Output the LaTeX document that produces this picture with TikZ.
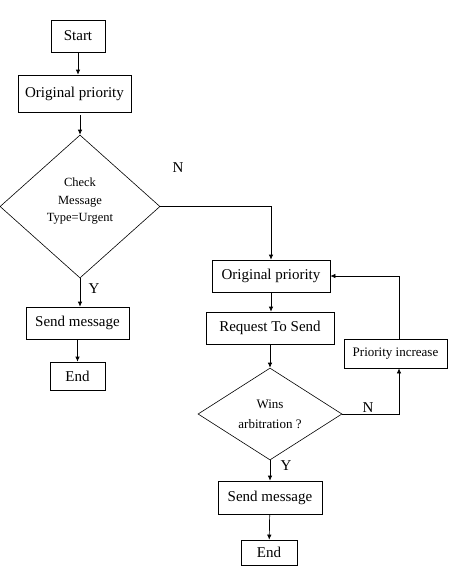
\documentclass[tikz,border=0pt]{standalone}
\usepackage{fontspec}
\setmainfont{Liberation Serif}
\usetikzlibrary{positioning, arrows.meta, shapes.geometric}

\begin{document}
\begin{tikzpicture}[
  x=1pt, y=-1pt,
  >={Latex[length=5pt, width=4.5pt]},
  box/.style={draw, line width=0.7pt, inner sep=0pt,
              font=\fontsize{15}{17}\selectfont},
  decision/.style={diamond, draw, line width=0.6pt, inner sep=0pt,
                   align=center},
  flow/.style={->, line width=0.7pt},
  tag/.style={font=\fontsize{15}{17}\selectfont},
]
\useasboundingbox (0,0) rectangle (452,574);

% ---- Left branch -------------------------------------------------------
\node[box, minimum width=54pt, minimum height=32pt] (start) at (78,36) {Start};
\node[box, minimum width=113pt, minimum height=37pt] (prioA) at (74.5,93.5)
  {Original priority};
\node[decision, minimum width=160pt, minimum height=143pt,
      font=\fontsize{12.5}{17.5}\selectfont] (check) at (80,206.5)
  {Check\\Message\\Type=Urgent\\[-4pt]};
\node[box, minimum width=103pt, minimum height=32pt] (sendA) at (77.5,323)
  {Send message};
\node[box, minimum width=55pt, minimum height=28pt] (endA) at (77.5,376) {End};

% ---- Right branch ------------------------------------------------------
\node[box, minimum width=118pt, minimum height=32pt] (prioB) at (271,276)
  {Original priority};
\node[box, minimum width=128pt, minimum height=32pt] (rts) at (270,328)
  {Request To Send};
\node[decision, minimum width=144pt, minimum height=86pt,
      font=\fontsize{13}{20}\selectfont] (wins) at (270,414)
  {Wins\\arbitration ?};
\node[box, minimum width=103pt, minimum height=29pt,
      font=\fontsize{13}{15}\selectfont] (incr) at (395.5,353.5)
  {Priority increase};
\node[box, minimum width=104pt, minimum height=33pt] (sendB) at (270,497.5)
  {Send message};
\node[box, minimum width=56pt, minimum height=25pt] (endB) at (269,552.5) {End};

% ---- Connectors --------------------------------------------------------
\draw[flow] (start.south) -- (start.south |- prioA.north);
\draw[flow] ([yshift=-3pt]check.north |- prioA.south) -- (check.north);
\draw[flow] (check.east) -| (prioB.north);
\draw[flow] (check.south) -- (check.south |- sendA.north);
\draw[flow] (sendA) -- (endA);

\draw[flow] (prioB.south) -- (prioB.south |- rts.north);
\draw[flow] (rts.south) -- (wins.north);
\draw[flow] (wins.east) -| ([xshift=3.5pt]incr.south);
\draw[flow] ([xshift=3.5pt]incr.north) |- (prioB.east);
\draw[flow] (wins.south) -- (sendB.north);
\draw[flow] (sendB) -- (endB);

% ---- Branch tags -------------------------------------------------------
\node[tag] (nA) at (178,168) {N};
\node[tag] (yA) at (94,289) {Y};
\node[tag] (nB) at (368,408) {N};
\node[tag] (yB) at (286,466) {Y};

\end{tikzpicture}
\end{document}
